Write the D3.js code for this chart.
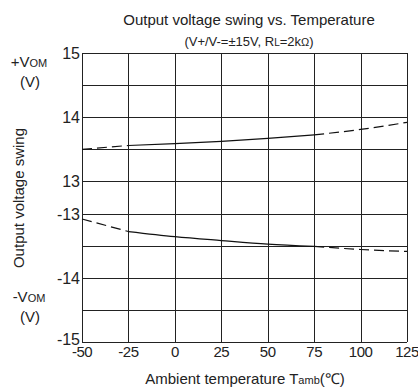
<!DOCTYPE html>
<html>
<head>
<meta charset="utf-8">
<script src="https://cdn.jsdelivr.net/npm/d3@7"></script>
<style>
  body { margin: 0; background: #fff; }
  text { font-family: "Liberation Sans", Arial, sans-serif; fill: #222; }
</style>
</head>
<body>
<div id="chart"></div>
<script>

// data
var temps = [-50, -25, 0, 25, 50, 75, 100, 125];
var vomPlus = [13.5, 13.56, 13.59, 13.625, 13.67, 13.725, 13.81, 13.92];
var vomMinus = [-13.085, -13.28, -13.36, -13.42, -13.475, -13.51, -13.56, -13.59];

var xTicks = [-50, -25, 0, 25, 50, 75, 100, 125];
var yGrid = [15, 14.5, 14, 13.5, 13, -13, -13.5, -14, -14.5, -15];
var yTicks = [15, 14, 13, -13, -14, -15];

// solid between -25 and 75, dashed outside
var solidRange = [-25, 75];

var svgWidth = 418;
var svgHeight = 390;

var chartMargin = {
  top: 53,
  right: 11,
  bottom: 48,
  left: 82
};

var chartWidth = svgWidth - chartMargin.left - chartMargin.right;
var chartHeight = svgHeight - chartMargin.top - chartMargin.bottom;

var svg = d3.select("#chart")
  .append("svg")
  .attr("width", svgWidth)
  .attr("height", svgHeight);

var chartGroup = svg.append("g")
  .attr("transform", `translate(${chartMargin.left}, ${chartMargin.top})`);

var xScale = d3.scaleLinear()
  .domain([-50, 125])
  .range([0, chartWidth]);

// broken axis: the gap between 13 and -13 is one grid row
var row = chartHeight / 9;
var yScale = d3.scaleLinear()
  .domain([-15, -13, 13, 15])
  .range([chartHeight, chartHeight - 4 * row, 4 * row, 0]);

// grid
chartGroup.selectAll(".hgrid")
  .data(yGrid)
  .enter()
  .append("line")
  .attr("class", "hgrid")
  .attr("x1", 0)
  .attr("x2", chartWidth)
  .attr("y1", d => Math.round(yScale(d)) + 0.5)
  .attr("y2", d => Math.round(yScale(d)) + 0.5)
  .attr("stroke", "#222")
  .attr("stroke-width", 1);

chartGroup.selectAll(".vgrid")
  .data(xTicks)
  .enter()
  .append("line")
  .attr("class", "vgrid")
  .attr("x1", d => Math.round(xScale(d)) + 0.5)
  .attr("x2", d => Math.round(xScale(d)) + 0.5)
  .attr("y1", 0)
  .attr("y2", chartHeight)
  .attr("stroke", "#222")
  .attr("stroke-width", 1);

// tick labels
chartGroup.selectAll(".xlab")
  .data(xTicks)
  .enter()
  .append("text")
  .attr("class", "xlab")
  .attr("x", d => xScale(d))
  .attr("y", chartHeight + 15)
  .attr("text-anchor", "middle")
  .style("font-size", "15px")
  .style("letter-spacing", "-0.5px")
  .text(d => d);

chartGroup.selectAll(".ylab")
  .data(yTicks)
  .enter()
  .append("text")
  .attr("class", "ylab")
  .attr("x", -2)
  .attr("y", d => yScale(d) + (d == -15 ? 3 : 6))
  .attr("text-anchor", "end")
  .style("font-size", "16px")
  .text(d => d);

// curves
var line = d3.line()
  .x(d => xScale(d.t))
  .y(d => yScale(d.v))
  .curve(d3.curveMonotoneX);

function drawSeries(values) {
  var pts = temps.map((t, i) => ({t: t, v: values[i]}));
  var parts = [
    {pts: pts.filter(d => d.t <= solidRange[0]), dash: "10,5"},
    {pts: pts.filter(d => d.t >= solidRange[0] && d.t <= solidRange[1]), dash: null},
    {pts: pts.filter(d => d.t >= solidRange[1]), dash: "10,5"}
  ];
  parts.forEach(function(p) {
    chartGroup.append("path")
      .attr("d", line(p.pts))
      .attr("fill", "none")
      .attr("stroke", "#111")
      .attr("stroke-width", 1.2)
      .attr("stroke-dasharray", p.dash);
  });
}
drawSeries(vomPlus);
drawSeries(vomMinus);

// titles
var title = svg.append("text")
  .attr("x", 249)
  .attr("y", 25)
  .attr("text-anchor", "middle")
  .style("font-size", "15px")
  .text("Output voltage swing vs. Temperature");

var sub = svg.append("text")
  .attr("x", 249)
  .attr("y", 46)
  .attr("text-anchor", "middle")
  .style("font-size", "13px");
sub.append("tspan").text("(V+/V-=\u00b115V, R");
sub.append("tspan").style("font-size", "10px").text("L");
sub.append("tspan").text("=2k");
sub.append("tspan").style("font-size", "11px").text("\u03a9");
sub.append("tspan").text(")");

// unit labels on the left
function vomLabel(sign, y) {
  var t = svg.append("text")
    .attr("x", 29)
    .attr("y", y)
    .attr("text-anchor", "middle")
    .style("font-size", "15px");
  t.append("tspan").text(sign + "V");
  t.append("tspan").style("font-size", "11px").text("OM");
  svg.append("text")
    .attr("x", 30)
    .attr("y", y + 20)
    .attr("text-anchor", "middle")
    .style("font-size", "15px")
    .text("(V)");
}
vomLabel("+", 67);
vomLabel("-", 302);

svg.append("text")
  .attr("transform", "rotate(-90)")
  .attr("x", -198)
  .attr("y", 24)
  .attr("text-anchor", "middle")
  .style("font-size", "15px")
  .text("Output voltage swing");

var xt = svg.append("text")
  .attr("x", 245)
  .attr("y", 384)
  .attr("text-anchor", "middle")
  .style("font-size", "15px");
xt.append("tspan").text("Ambient temperature T");
xt.append("tspan").style("font-size", "11px").text("amb");
xt.append("tspan").text("(\u2103)");

</script>
</body>
</html>
